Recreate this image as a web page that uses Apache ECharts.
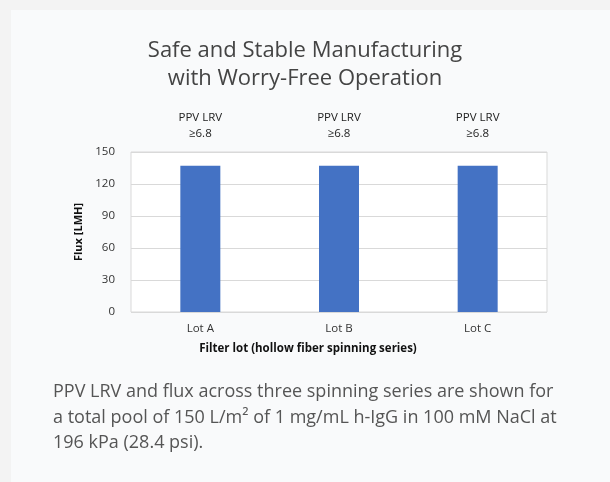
<!DOCTYPE html>
<html>
<head>
<meta charset="utf-8">
<script src="https://cdn.jsdelivr.net/npm/echarts@6/dist/echarts.min.js"></script>
<style>
  body { margin: 0; background: #f3f3f3; width: 610px; height: 482px; overflow: hidden; position: relative; }
  .card { position: absolute; left: 11px; top: 10px; width: 620px; height: 490px; background: #f9fafb; }
  #chart { position: absolute; left: 0; top: 0; width: 610px; height: 482px; }
  .note {
    position: absolute; left: 53px; top: 378px; width: 550px; white-space: nowrap;
    font-family: "Open Sans", sans-serif; font-size: 18px; line-height: 25.5px; color: #555;
  }
</style>
</head>
<body>
<div class="card"></div>
<div id="chart"></div>
<div class="note">PPV LRV and flux across three spinning series are shown for<br>a total pool of 150 L/m² of 1 mg/mL h-IgG in 100 mM NaCl at<br>196 kPa (28.4 psi).</div>
<script>
  const lots = ["Lot A", "Lot B", "Lot C"];
  const flux = [137, 137, 137];
  const lrvLabels = ["PPV LRV\n≥6.8", "PPV LRV\n≥6.8", "PPV LRV\n≥6.8"];
  const yTicks = [0, 30, 60, 90, 120, 150];

  const chart = echarts.init(document.getElementById("chart"));

  const option = {
    animation: false,
    textStyle: { fontFamily: "'Open Sans', sans-serif" },
    title: {
      text: "Safe and Stable Manufacturing\nwith Worry-Free Operation",
      left: "center",
      top: 32,
      textStyle: {
        fontFamily: "'Open Sans', sans-serif",
        fontSize: 22,
        fontWeight: "normal",
        color: "#444",
        lineHeight: 28,
      },
    },
    grid: {
      left: 131,
      right: 63,
      top: 152,
      bottom: 170,
      show: true,
      backgroundColor: "#fff",
      borderColor: "#d9d9d9",
      borderWidth: 1,
    },
    xAxis: [
      {
        type: "category",
        data: lots,
        axisLine: { show: false },
        axisTick: { show: false },
        axisLabel: { color: "#333", fontSize: 11.5, margin: 11 },
        name: "Filter lot (hollow fiber spinning series)",
        nameLocation: "middle",
        nameGap: 31,
        nameTextStyle: {
          fontSize: 11.5,
          fontWeight: "bold",
          color: "#111",
          padding: [0, 62, 0, 0],
        },
      },
      {
        type: "category",
        position: "top",
        data: lrvLabels,
        axisLine: { show: false },
        axisTick: { show: false },
        axisLabel: { color: "#222", fontSize: 11.5, lineHeight: 16, margin: 10 },
      },
    ],
    yAxis: {
      type: "value",
      min: yTicks[0],
      max: yTicks[yTicks.length - 1],
      interval: 30,
      axisLine: { show: false },
      axisTick: { show: false },
      axisLabel: { color: "#333", fontSize: 11.5, margin: 16 },
      splitLine: { lineStyle: { color: "#d9d9d9", width: 1 } },
      name: "Flux [LMH]",
      nameLocation: "middle",
      nameGap: 39,
      nameTextStyle: { fontSize: 11, fontWeight: "bold", color: "#111" },
    },
    series: [
      {
        type: "bar",
        data: flux,
        barWidth: 40,
        itemStyle: { color: "#4472c4" },
      },
    ],
  };

  chart.setOption(option);
</script>
</body>
</html>
